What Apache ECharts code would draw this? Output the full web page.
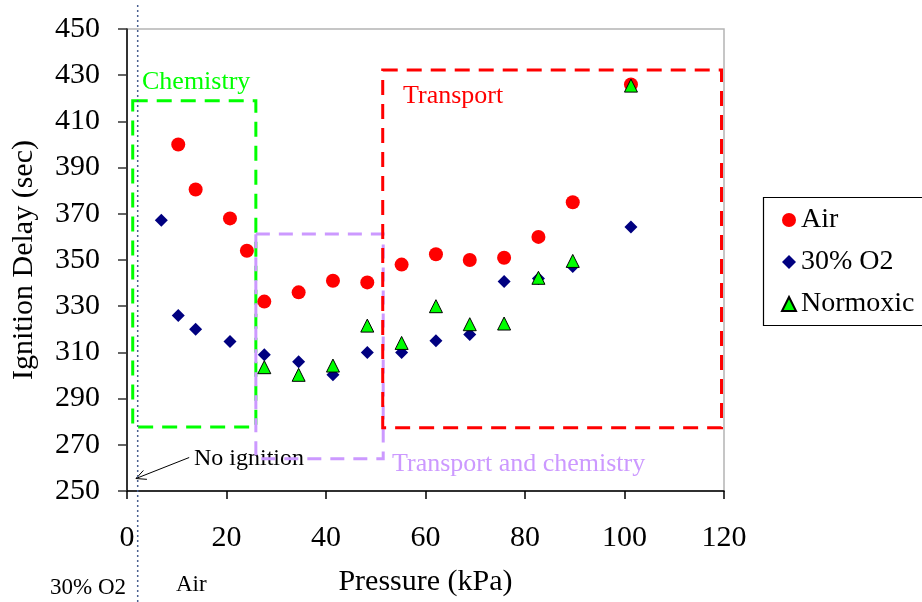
<!DOCTYPE html>
<html>
<head>
<meta charset="utf-8">
<script src="https://cdn.jsdelivr.net/npm/echarts@6/dist/echarts.min.js"></script>
<style>
  html, body { margin: 0; padding: 0; background: #fff; }
  #main { width: 922px; height: 602px; }
</style>
</head>
<body>
<div id="main"></div>
<script>
// pressure (kPa) for each series
const airX = [10.3, 13.8, 20.7, 24.1, 27.6, 34.5, 41.4, 48.3, 55.2, 62.1, 68.9, 75.8, 82.7, 89.6, 101.3];
const airY = [400, 380.5, 368, 354, 332, 336, 341, 340.3, 348, 352.5, 350, 351, 360, 375, 426];

const o2X = [6.9, 10.3, 13.8, 20.7, 27.6, 34.5, 41.4, 48.3, 55.2, 62.1, 68.9, 75.8, 82.7, 89.6, 101.3];
const o2Y = [367.2, 326, 320, 314.7, 309, 306, 300.3, 310, 310, 315, 317.7, 340.7, 342, 347.2, 364.3];

const normX = [27.6, 34.5, 41.4, 48.3, 55.2, 62.1, 68.9, 75.8, 82.7, 89.6, 101.3];
const normY = [303.6, 300.3, 304.3, 321.6, 314.1, 330, 322.2, 322.5, 342.3, 349.6, 425.5];

const seriesNames = ['Air', '30% O2', 'Normoxic'];

// annotation regions [x0, y0, x1, y1] in data units
const chemBox = [1.15, 418.9, 25.9, 277.7];
const mixBox = [25.9, 361.3, 51.5, 264];
const transBox = [51.4, 432.3, 119.5, 277.4];
const noIgnitionX = 2.15;

const font = 'Liberation Serif';

const zip = (xs, ys) => xs.map((x, i) => [x, ys[i]]);
const box = (b, color, dash) => [
  { coord: [b[0], b[1]], itemStyle: { color: 'transparent', borderColor: color, borderWidth: 3, borderType: dash } },
  { coord: [b[2], b[3]] }
];

const chart = echarts.init(document.getElementById('main'));

const option = {
  animation: false,
  textStyle: { fontFamily: font },
  grid: {
    left: 127, right: 198, top: 29, bottom: 109,
    show: true, borderColor: '#b4b4b4', borderWidth: 1.5
  },
  xAxis: {
    type: 'value', min: 0, max: 120, interval: 20,
    name: 'Pressure (kPa)', nameLocation: 'middle', nameGap: 76,
    nameTextStyle: { fontFamily: font, fontSize: 30, color: '#000' },
    axisLine: { show: true, lineStyle: { color: '#000', width: 1.5 } },
    axisTick: { show: true, length: 8, lineStyle: { color: '#000', width: 1.5 } },
    axisLabel: { fontFamily: font, fontSize: 30, color: '#000', margin: 32 },
    splitLine: { show: false }
  },
  yAxis: {
    type: 'value', min: 250, max: 450, interval: 20,
    name: 'Ignition Delay (sec)', nameLocation: 'middle', nameGap: 88,
    nameTextStyle: { fontFamily: font, fontSize: 30, color: '#000' },
    axisLine: { show: true, lineStyle: { color: '#000', width: 1.5 } },
    axisTick: { show: true, length: 9, lineStyle: { color: '#333', width: 1.5 } },
    axisLabel: { fontFamily: font, fontSize: 30, color: '#000', margin: 27 },
    splitLine: { show: false }
  },
  legend: {
    orient: 'vertical', left: 763, top: 197,
    padding: [9, 10, 12, 18], itemGap: 14,
    itemWidth: 14, itemHeight: 14,
    textStyle: { fontFamily: font, fontSize: 28, color: '#000' },
    data: seriesNames
  },
  series: [
    {
      name: seriesNames[0], type: 'scatter', symbol: 'circle', symbolSize: 14,
      itemStyle: { color: '#ff0000', opacity: 1 },
      data: zip(airX, airY),
      markArea: {
        silent: true,
        data: [
          box(chemBox, '#00ff00', [15, 9]),
          box(mixBox, '#cc99ff', [14, 9]),
          box(transBox, '#ff0000', [15, 9])
        ]
      }
    },
    {
      name: seriesNames[1], type: 'scatter', symbol: 'diamond', symbolSize: 13,
      itemStyle: { color: '#000080', opacity: 1 },
      data: zip(o2X, o2Y)
    },
    {
      name: seriesNames[2], type: 'scatter', symbol: 'triangle', symbolSize: 13,
      itemStyle: { color: '#00ff00', borderColor: '#000', borderWidth: 1, opacity: 1 },
      data: zip(normX, normY)
    }
  ]
};

chart.setOption(option);

// annotations placed from data anchors
const px = (x, y) => chart.convertToPixel({ gridIndex: 0 }, [x, y]);
const lineX = px(noIgnitionX, 250)[0];
const tip = px(1.8, 255.4);
const tail = px(12.5, 264.5);
const ang = Math.atan2(tail[1] - tip[1], tail[0] - tip[0]);
const head = (d) => [tip[0] + 11 * Math.cos(ang + d), tip[1] + 11 * Math.sin(ang + d)];

const label = (text, pos, color, size) => ({
  type: 'text', left: pos[0], top: pos[1],
  style: { text: text, fill: color, font: size + 'px "' + font + '"' }
});

chart.setOption({
  graphic: [
    // legend frame runs off the right edge, as in the source
    {
      type: 'rect', z: 0,
      shape: { x: 763.5, y: 197.5, width: 220, height: 128 },
      style: { fill: null, stroke: '#000', lineWidth: 1.2 }
    },
    {
      type: 'line', z: 1,
      shape: { x1: lineX, y1: 5, x2: lineX, y2: 602 },
      style: { stroke: '#4a6090', lineWidth: 1.5, lineDash: [2, 3] }
    },
    {
      type: 'line',
      shape: { x1: tail[0], y1: tail[1], x2: tip[0], y2: tip[1] },
      style: { stroke: '#000', lineWidth: 1 }
    },
    {
      type: 'polyline',
      shape: { points: [head(0.45), tip, head(-0.45)] },
      style: { stroke: '#000', lineWidth: 1, fill: null }
    },
    label('Chemistry', [142, 69], '#00ff00', 26),
    label('Transport', [403, 83], '#ff0000', 26),
    label('Transport and chemistry', [392, 451], '#cc99ff', 26),
    label('No ignition', [194, 447], '#000', 24),
    label('30% O2', [50, 576], '#000', 23),
    label('Air', [176, 573], '#000', 23)
  ]
});
</script>
</body>
</html>
